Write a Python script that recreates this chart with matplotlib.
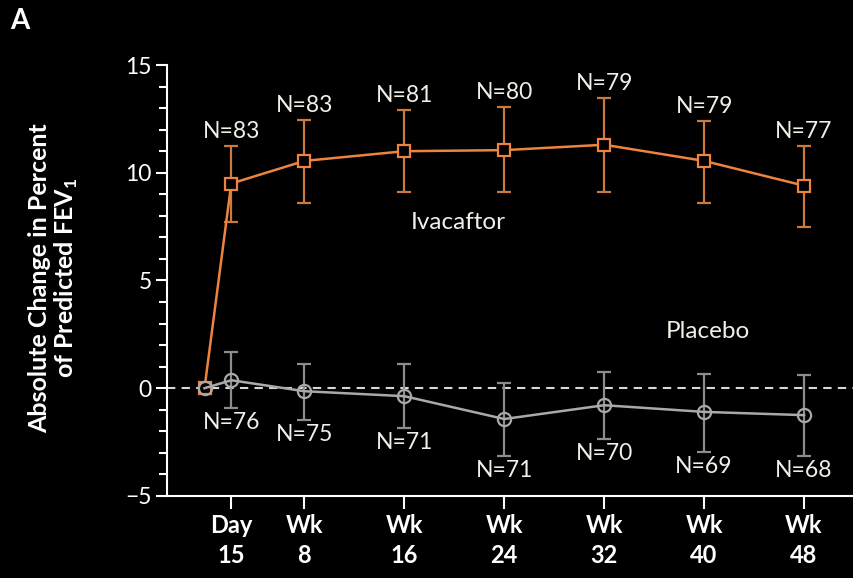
import numpy as np
import matplotlib.pyplot as plt
from matplotlib.ticker import MultipleLocator

plt.rcParams['font.family'] = ['Lato', 'DejaVu Sans']

# study visits, in weeks (baseline, day 15, wk 8 ... wk 48)
weeks = [0, 15 / 7, 8, 16, 24, 32, 40, 48]
tick_weeks = [15 / 7, 8, 16, 24, 32, 40, 48]
tick_labels = ["Day\n15", "Wk\n8", "Wk\n16", "Wk\n24", "Wk\n32", "Wk\n40", "Wk\n48"]

# ivacaftor: mean change and 95% CI bounds
iva_mean = [0, 9.5, 10.55, 11.0, 11.05, 11.3, 10.55, 9.4]
iva_lo = [0, 7.7, 8.6, 9.1, 9.1, 9.1, 8.6, 7.5]
iva_hi = [0, 11.25, 12.45, 12.9, 13.05, 13.45, 12.4, 11.25]
iva_n = [None, 83, 83, 81, 80, 79, 79, 77]

# placebo
pla_mean = [0, 0.37, -0.14, -0.37, -1.43, -0.79, -1.1, -1.25]
pla_lo = [0, -0.93, -1.48, -1.85, -3.15, -2.36, -2.96, -3.15]
pla_hi = [0, 1.67, 1.1, 1.1, 0.23, 0.74, 0.65, 0.6]
pla_n = [None, 76, 75, 71, 71, 70, 69, 68]

orange = "#ec8440"
orange_bar = "#c97a3e"
gray = "#a9a9a9"
gray_bar = "#8c8c8c"
txt = "#f0efe8"

fig = plt.figure(figsize=(8.54, 5.78), dpi=100, facecolor="black")
ax = fig.add_axes([0.1956, 0.142, 0.8044, 0.7455], facecolor="black")

ax.axhline(0, color="#d8d8d8", lw=1.5, ls=(0, (4, 3)), zorder=1)

w = np.array(weeks)

# ivacaftor
im, il, ih = map(np.array, (iva_mean, iva_lo, iva_hi))
ax.errorbar(w[1:], im[1:], yerr=[im[1:] - il[1:], ih[1:] - im[1:]], fmt="none",
            ecolor=orange_bar, elinewidth=1.6, capsize=5, capthick=1.6, zorder=2)
ax.plot(w, im, color=orange, lw=1.8, marker="s", ms=8.5, mfc="black",
        mec=orange, mew=1.6, zorder=3)

# placebo (drawn on top so the baseline circle shows)
pm, pl, ph = map(np.array, (pla_mean, pla_lo, pla_hi))
ax.errorbar(w[1:], pm[1:], yerr=[pm[1:] - pl[1:], ph[1:] - pm[1:]], fmt="none",
            ecolor=gray_bar, elinewidth=1.6, capsize=5, capthick=1.6, zorder=4)
ax.plot(w, pm, color=gray, lw=1.8, marker="o", ms=9.5, mfc="none",
        mec=gray, mew=1.6, zorder=5)

# N labels
for x, hi, n in zip(weeks, iva_hi, iva_n):
    if n is not None:
        ax.annotate(f"N={n}", (x, hi), xytext=(0, 3), textcoords="offset points",
                    ha="center", va="bottom", color=txt, fontsize=16.5)
for x, lo, n in zip(weeks, pla_lo, pla_n):
    if n is not None:
        ax.annotate(f"N={n}", (x, lo), xytext=(0, -3), textcoords="offset points",
                    ha="center", va="top", color=txt, fontsize=16.5)

ax.text(20.3, 7.7, "Ivacaftor", color=txt, fontsize=17.5, ha="center", va="center")
ax.text(40.3, 2.65, "Placebo", color=txt, fontsize=17.5, ha="center", va="center")

ax.set_xlim(-3, 52)
ax.set_ylim(-5, 15)
ax.set_xticks(tick_weeks)
ax.set_xticklabels(tick_labels, fontsize=17, fontweight="bold", color="white",
                   linespacing=1.35)
ax.set_yticks([-5, 0, 5, 10, 15])
ax.set_yticklabels(["\u22125", "0", "5", "10", "15"], fontsize=16.5, color=txt)
ax.yaxis.set_minor_locator(MultipleLocator(1))

for s in ["top", "right"]:
    ax.spines[s].set_visible(False)
for s in ["left", "bottom"]:
    ax.spines[s].set_color("white")
    ax.spines[s].set_linewidth(1.5)

ax.tick_params(axis="x", colors="white", length=9, width=1.5, pad=4)
ax.tick_params(axis="y", which="major", colors="white", length=8, width=1.5, pad=3)
ax.tick_params(axis="y", which="minor", colors="white", length=6, width=1.5)

ax.set_ylabel("Absolute Change in Percent\nof Predicted FEV$_\\mathregular{1}$",
              color="white", fontsize=18, fontweight="bold", linespacing=1.05)
ax.yaxis.set_label_coords(-0.127, 0.506)

fig.text(0.012, 0.963, "A", color="white", fontsize=20, fontweight="bold",
         ha="left", va="center")

fig.savefig("out.png", dpi=100, facecolor="black")
